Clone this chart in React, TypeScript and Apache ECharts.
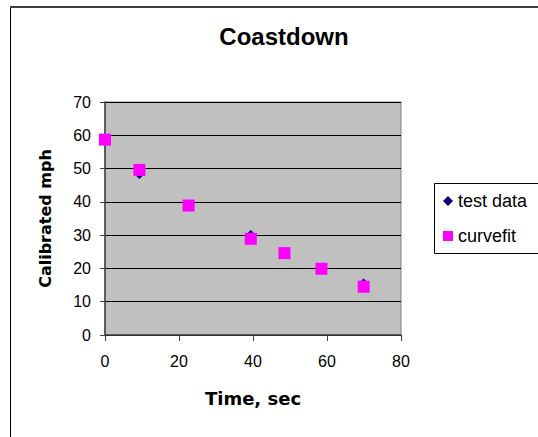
import React, { useEffect, useRef } from "react";
import * as echarts from "echarts";

const title = "Coastdown";
const xName = "Time, sec";
const yName = "Calibrated mph";
const seriesNames = ["test data", "curvefit"];
const times = [0, 9.3, 22.6, 39.4, 48.5, 58.5, 69.9];
const testData = [58.7, 48.2, 39.1, 30.2, 25.0, 20.2, 15.6];
const curveFit = [58.7, 49.6, 38.9, 28.9, 24.6, 19.9, 14.5];

const FONT = "Arial, 'Liberation Sans', sans-serif";
const WIDE = "'DejaVu Sans', Arial, sans-serif";

export default function App() {
  const ref = useRef<HTMLDivElement>(null);
  useEffect(() => {
    document.body.style.margin = "0";
    const chart = echarts.init(ref.current!, null, { renderer: "svg" });
    chart.setOption({
      animation: false,
      backgroundColor: "#ffffff",
      textStyle: { fontFamily: FONT },
      title: {
        text: title,
        left: 279,
        top: 19,
        textAlign: "center",
        textStyle: { fontFamily: FONT, fontSize: 24, fontWeight: "bold", color: "#000" },
      },
      grid: {
        left: 105,
        top: 102,
        width: 296,
        height: 233,
        show: true,
        backgroundColor: "#c0c0c0",
        borderColor: "#808080",
        borderWidth: 1,
      },
      legend: {
        left: 438,
        top: 187,
        orient: "vertical",
        itemWidth: 10,
        itemHeight: 10,
        itemGap: 17,
        textStyle: { fontFamily: FONT, fontSize: 18, color: "#000" },
        data: [
          { name: seriesNames[0], icon: "diamond", itemStyle: { color: "#000080", opacity: 1 } },
          { name: seriesNames[1], icon: "rect", itemStyle: { color: "#ff00ff", opacity: 1 } },
        ],
      },
      xAxis: {
        type: "value",
        min: 0,
        max: 80,
        interval: 20,
        name: xName,
        nameLocation: "middle",
        nameGap: 54,
        nameTextStyle: { fontFamily: WIDE, fontSize: 18, fontWeight: "bold", color: "#000" },
        axisLine: { show: true, onZero: false, lineStyle: { color: "#404040", width: 1.5 } },
        axisTick: { show: true, inside: false, length: 6, lineStyle: { color: "#404040" } },
        axisLabel: { fontFamily: FONT, fontSize: 16, color: "#000", margin: 18 },
        splitLine: { show: false },
      },
      yAxis: {
        type: "value",
        min: 0,
        max: 70,
        interval: 10,
        name: yName,
        nameLocation: "middle",
        nameGap: 52,
        nameRotate: 90,
        nameTextStyle: { fontFamily: WIDE, fontSize: 16, fontWeight: "bold", color: "#000" },
        axisLine: { show: true, onZero: false, lineStyle: { color: "#404040", width: 1.5 } },
        axisTick: { show: true, inside: false, length: 5, lineStyle: { color: "#404040" } },
        axisLabel: { fontFamily: FONT, fontSize: 16, color: "#000", margin: 14 },
        splitLine: { show: true, lineStyle: { color: "#000", width: 1 } },
      },
      graphic: [
        {
          type: "rect",
          shape: { x: 10.5, y: 7, width: 600, height: 500 },
          style: { fill: "none", stroke: "#000", lineWidth: 1 },
          z: -1,
        },
        {
          type: "line",
          shape: { x1: 10, y1: 7, x2: 538, y2: 7 },
          style: { stroke: "#404040", lineWidth: 2 },
        },
        {
          type: "rect",
          shape: { x: 434.5, y: 183.5, width: 200, height: 70 },
          style: { fill: "#fff", stroke: "#000", lineWidth: 1 },
          z: -1,
        },
      ],
      series: [
        {
          name: seriesNames[0],
          type: "scatter",
          symbol: "diamond",
          symbolSize: 9,
          itemStyle: { color: "#000080", opacity: 1 },
          data: times.map((t, i) => [t, testData[i]]),
          z: 2,
        },
        {
          name: seriesNames[1],
          type: "scatter",
          symbol: "rect",
          symbolSize: 12,
          itemStyle: { color: "#ff00ff", opacity: 1 },
          data: times.map((t, i) => [t, curveFit[i]]),
          z: 3,
        },
      ],
    });
    return () => chart.dispose();
  }, []);
  return <div ref={ref} style={{ width: 538, height: 437 }} />;
}
